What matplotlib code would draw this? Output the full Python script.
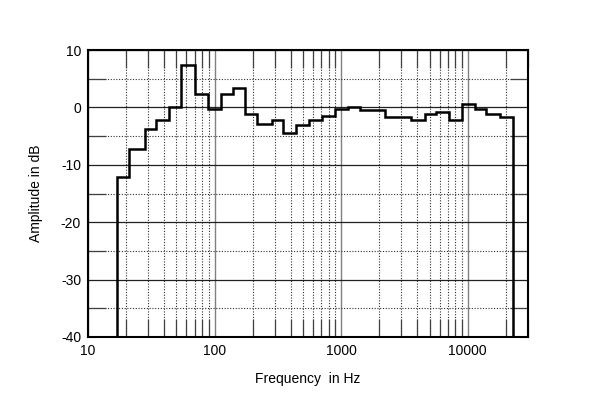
import matplotlib
matplotlib.use('Agg')
import matplotlib.pyplot as plt
from matplotlib.ticker import FixedLocator, FixedFormatter, LogLocator, NullFormatter
import numpy as np

plt.rcParams['font.family'] = ['Liberation Sans', 'DejaVu Sans']
plt.rcParams['axes.unicode_minus'] = False

# band edges (Hz) and level in each band (dB)
band_edges = [16.9, 21.2, 28.3, 34.4, 43.3, 54.5, 69.5, 88, 113, 139, 175, 217,
              285, 348, 443, 555, 708, 903, 1138, 1406, 2208, 3588, 4571, 5586,
              7120, 9090, 11380, 14080, 17950, 22900]
band_levels = [-12.1, -7.2, -3.8, -2.2, 0.0, 7.4, 2.3, -0.3, 2.3, 3.4, -1.2, -2.9,
               -2.2, -4.4, -3.1, -2.2, -1.5, -0.2, 0.1, -0.5, -1.6, -2.2, -1.1, -0.75,
               -2.2, 0.6, -0.3, -1.1, -1.7]

x_ticks = [10, 100, 1000, 10000]
x_labels = ['10', '100', '1000', '10000']
y_ticks = [-40, -30, -20, -10, 0, 10]
y_minor = [-35, -25, -15, -5, 5]

fig = plt.figure(figsize=(6.0, 4.07), dpi=100)
ax = fig.add_axes([88 / 600, 1 - 337 / 407, 440 / 600, 287 / 407])

ax.set_xscale('log')
ax.set_xlim(10, 30000)
ax.set_ylim(-40, 10)

ax.xaxis.set_major_locator(FixedLocator(x_ticks))
ax.xaxis.set_major_formatter(FixedFormatter(x_labels))
ax.xaxis.set_minor_locator(LogLocator(base=10, subs=np.arange(2, 10)))
ax.xaxis.set_minor_formatter(NullFormatter())
ax.yaxis.set_major_locator(FixedLocator(y_ticks))
ax.yaxis.set_minor_locator(FixedLocator(y_minor))

# grid: solid decades / 10 dB, dotted in between
ax.grid(which='major', axis='x', color='#808080', lw=1.0, ls='-')
ax.grid(which='major', axis='y', color='#202020', lw=0.9, ls='-')
ax.grid(which='minor', color='#303030', lw=0.8, ls=(0, (1, 1.5)))
ax.set_axisbelow(True)

ax.tick_params(which='minor', direction='in', length=13, width=0.9, color='#404040',
               top=True, right=True)
ax.tick_params(which='major', direction='in', length=0, labelsize=10, pad=5)

for sp in ax.spines.values():
    sp.set_linewidth(1.5)

ax.stairs(band_levels, band_edges, baseline=-40, color='black', lw=1.8, zorder=5)

ax.set_xlabel('Frequency  in Hz', fontsize=10, labelpad=10)
ax.set_ylabel('Amplitude in dB', fontsize=10, labelpad=13)

fig.savefig('out.png', dpi=100)
